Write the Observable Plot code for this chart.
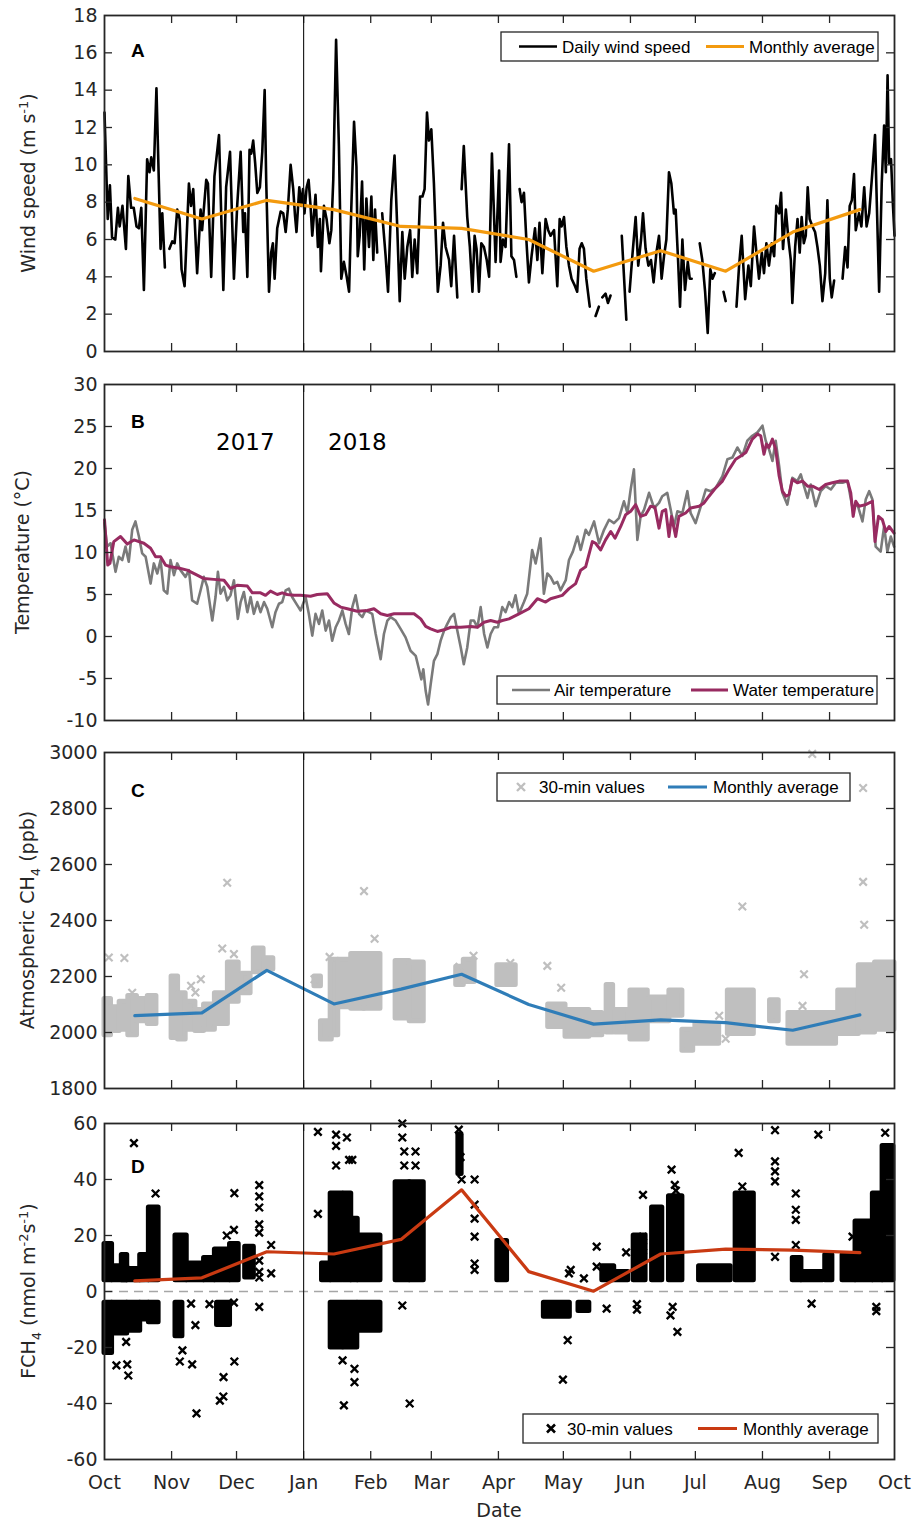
<!DOCTYPE html>
<html><head><meta charset="utf-8">
<script src="https://cdn.jsdelivr.net/npm/d3@7"></script>
<script src="https://cdn.jsdelivr.net/npm/@observablehq/plot@0.6"></script>
<style>
body{margin:0;background:#fff;}
#fig{position:relative;width:915px;height:1522px;background:#fff;overflow:hidden;}
#fig svg{position:absolute;left:0;}
</style></head><body><div id="fig"></div>
<script>
// ---------- DATA ----------
// days since 2017-10-01 ; null value = data gap
const monthTicks = ["2017-10-01","2017-11-01","2017-12-01","2018-01-01","2018-02-01","2018-03-01","2018-04-01","2018-05-01","2018-06-01","2018-07-01","2018-08-01","2018-09-01","2018-10-01"];
const monthMid = ["2017-10-15","2017-11-15","2017-12-15","2018-01-15","2018-02-15","2018-03-15","2018-04-15","2018-05-15","2018-06-15","2018-07-15","2018-08-15","2018-09-15"];
const yearBreak = ["2018-01-01"];

const windDaily = [[0,12.8],[1.5,7.1],[2.5,8.9],[3.5,6.1],[5,6.0],[6.2,7.7],[7,6.7],[8.3,7.8],[9.9,5.5],[11,9.4],[12.3,7.7],[13.5,7.7],[14.8,6.7],[15.9,6.6],[17,7.7],[18.2,3.3],[19.7,10.3],[20.8,9.6],[21.6,10.4],[22.8,9.7],[24,14.1],[25.9,5.5],[26.7,7.4],[27.9,4.5],[29,null],
[30,5.5],[31.3,5.9],[32.4,5.8],[33.6,7.6],[34.7,7.1],[35.6,4.4],[37,3.5],[39,9.0],[40,7.8],[41,8.7],[42.8,4.2],[44.4,7.6],[45.1,6.5],[47,9.2],[47.8,9.0],[49.3,4.0],[50.8,9.4],[52.9,11.6],[54.9,3.3],[56.2,8.8],[58,10.7],[59.8,3.9],[61.3,7.8],[62.9,10.7],[64.1,6.4],[64.9,7.4],[66,4.0],[67,10.8],[67.8,10.6],[68.7,11.3],[69.6,10.1],[70.6,8.5],[71.8,8.8],[72.9,10.7],[74,14.0],[74.7,9.2],[76,3.2],[77,5.3],[77.8,5.8],[78.6,3.9],[79.8,6.6],[81.4,7.5],[82.6,7.4],[83.7,6.4],[84.7,7.6],[86,10.0],[87.2,8.7],[88,7.3],[88.7,6.4],[90,8.8],[90.9,7.8],[91.7,8.7],[92.4,7.4],[93.4,8.8],[94.3,9.2],[95.2,7.8],[96,6.2],[97.5,8.4],[98.6,5.6],[99.5,7.1],[100,4.3],[101.4,7.8],[102.6,7.1],[103.9,5.8],[104.8,6.5],[105.7,9.2],[107,16.7],[108.3,11.0],[109.4,3.9],[110.6,4.8],[111.9,4.0],[113,3.2],[114,7.6],[115.3,12.3],[116.4,9.9],[117,5.1],[117.9,6.2],[119,9.1],[120,4.4],[121,8.2],[122.2,5.6],[123.3,8.3],[124.2,4.9],[125,7.6],[126,5.3],[127,null],
[128.3,7.4],[129.9,5.1],[131,3.2],[132.5,8.1],[134,10.5],[135.3,6.5],[136.4,2.7],[137.6,6.4],[138.7,3.9],[139.9,5.6],[141.2,6.5],[142.2,4.0],[143.3,6.0],[144.5,4.2],[145.8,8.3],[146.9,8.3],[147.9,8.7],[149,12.8],[149.9,11.3],[151,11.9],[152.2,9.0],[153,6.4],[154,3.2],[155.3,4.6],[156.4,6.9],[157.6,5.6],[159.2,4.9],[160.2,3.5],[161.5,6.2],[163,2.9],[164,null],
[165,8.7],[166,11.0],[167.6,7.2],[168.8,5.6],[170,3.2],[171,6.2],[171.9,5.5],[173,3.2],[174.1,5.8],[175.3,5.6],[176.6,4.9],[177.7,4.0],[179,10.6],[180.7,4.8],[182.3,9.7],[183,4.8],[184.1,6.0],[185.3,5.6],[186.9,11.1],[188,5.1],[189.2,4.9],[190.3,4.0],[191,null],
[191.8,8.7],[192.7,8.0],[193.8,8.5],[194.9,6.0],[196.1,3.7],[197.3,5.1],[198.9,6.6],[200,4.9],[201,6.9],[202.3,4.2],[203.8,7.1],[205,6.5],[206.1,6.2],[207.7,6.5],[209.2,3.5],[210.3,7.1],[211.2,6.7],[212.3,7.2],[213.4,5.6],[214.6,4.6],[215.8,3.9],[217.4,3.5],[218.4,3.2],[219.5,5.5],[220.5,5.8],[221.5,5.5],[222.6,3.9],[224.2,2.4],[225.5,null],
[226.9,1.9],[228.4,2.4],[229.2,null],[230,2.9],[231.5,3.1],[232.6,2.6],[233.8,3.0],[236,null],
[239,6.2],[241.1,1.7],[241.8,null],
[242.6,3.2],[244,5.3],[245.4,7.2],[246.6,4.6],[247.9,6.0],[248.8,7.4],[250,5.5],[251.3,4.6],[252.5,4.9],[253.7,3.7],[255,5.3],[256.2,6.2],[257.4,3.9],[258.5,5.1],[259.6,6.0],[260.8,9.6],[261.9,9.0],[263.1,7.4],[263.9,7.6],[265,4.9],[265.9,2.4],[267,6.0],[268.2,3.3],[269.5,4.8],[270.4,3.9],[271.3,3.9],[273,null],
[275,5.8],[276.2,4.9],[277.5,3.2],[278.7,1.0],[279.9,4.4],[280.9,3.9],[282,4.2],[284,null],
[286,3.2],[287,2.7],[289,null],
[292,2.4],[293.2,4.6],[294.4,6.2],[296,2.8],[297.5,4.6],[298.6,3.5],[300.1,6.7],[301.2,5.3],[302.4,3.9],[303.7,5.3],[304.7,4.2],[305.8,5.8],[307,4.6],[308.3,5.8],[309.4,5.1],[310.4,7.8],[311.7,7.4],[312.6,8.5],[313.5,5.5],[314.8,7.6],[316,6.0],[317.1,4.9],[317.8,2.6],[319.1,5.6],[320.2,7.1],[321.2,5.3],[322.1,7.2],[323.1,5.8],[324,6.2],[324.9,8.8],[325.8,7.1],[327.1,6.7],[328.3,6.4],[329.4,5.6],[330.5,4.6],[331.7,2.7],[333,4.2],[334,8.1],[335.1,3.9],[336,2.9],[337.1,3.8],[339,null],
[341,3.9],[342.2,5.6],[343.3,4.5],[344.3,7.8],[345.3,8.1],[346.3,9.5],[347.1,6.5],[348.6,7.4],[349.7,6.7],[351,8.8],[352.1,6.7],[353.3,7.4],[354.5,9.2],[356,11.6],[357.9,3.2],[359.1,9.0],[360.2,12.1],[361,9.6],[361.8,14.8],[362.5,10.1],[363.4,10.3],[364.3,7.8],[365,6.2]];
const windMonthly = [8.2, 7.1, 8.1, 7.6, 6.7, 6.6, 6.0, 4.3, 5.4, 4.3, 6.4, 7.6];

const waterTemp = [[0,13.9],[1.5,8.5],[2.5,8.7],[4.3,11.3],[7.4,11.9],[10.5,11.0],[13.6,11.5],[18.2,11.1],[21.3,10.5],[23.6,9.5],[25.9,9.5],[28.2,8.5],[30.5,8.3],[35.1,8.1],[38.2,7.9],[42.8,7.3],[45.9,6.9],[50.5,6.8],[55.2,6.7],[58.2,5.7],[61.3,6.1],[66,6.0],[68.3,5.2],[72.1,5.2],[74.4,4.9],[76.7,5.4],[79.8,5.0],[82.1,5.2],[84.4,5.0],[87.5,4.9],[90.6,4.9],[95.2,4.8],[98.3,5.0],[102.9,5.1],[106,4.0],[109.1,3.5],[112.2,3.3],[116.8,3.0],[121.4,3.1],[124.5,3.3],[127.6,2.7],[130.7,2.5],[133.8,2.7],[136.8,2.7],[143,2.7],[146.1,2.1],[148.4,1.2],[150.7,0.9],[153.8,0.6],[156.9,0.8],[160,1.1],[164.6,1.1],[169.2,1.2],[172.3,1.1],[175.4,1.7],[178.4,1.9],[181.5,1.7],[183.8,1.9],[186.9,2.1],[191.5,2.7],[196.1,3.3],[200,4.5],[203.8,4.1],[206.1,4.5],[211.5,4.9],[214.6,5.7],[217.7,6.3],[220,7.9],[222.3,8.3],[225.4,11.3],[226.9,11.1],[229.2,10.3],[231.5,11.5],[233.9,12.5],[235.9,11.7],[238.5,13.1],[240.8,14.5],[243.1,14.9],[245.4,15.7],[247.7,14.3],[250,14.5],[252.3,15.5],[254.3,15.4],[256.2,12.9],[257.7,14.9],[259.3,15.1],[260.8,11.9],[262,14.3],[263.9,11.9],[265.4,14.3],[268.5,14.7],[270.8,15.3],[274.7,15.5],[277,15.9],[279.3,16.7],[282.4,17.7],[285.5,18.5],[288.6,19.9],[291.6,21.1],[294,21.5],[296.3,21.9],[299.3,23.5],[301.7,24.1],[303.2,23.9],[304.7,21.7],[305.8,22.9],[307,22.5],[308.6,23.5],[310.1,22.3],[311.7,19.1],[313.2,17.3],[314.8,16.7],[316.3,16.9],[317.8,18.7],[320.1,18.3],[322.5,18.5],[324.8,17.9],[327.1,17.9],[330.2,17.5],[333.2,18.1],[336.3,18.3],[339.4,18.5],[343.3,18.5],[344.8,17.1],[345.9,14.3],[347.1,16.1],[348.6,15.5],[351.7,15.7],[354.8,16.1],[356,11.3],[357.6,14.3],[359.4,13.9],[361,12.5],[362.5,13.1],[364.8,12.3]];

const airTemp = [[0,13.5],[1.2,10.7],[2.8,11.1],[5.1,7.7],[6.6,9.5],[8.2,9.1],[9.7,10.7],[11.2,8.9],[12.8,12.7],[14.3,13.7],[15.9,11.9],[17.4,9.9],[19,9.5],[21.3,6.3],[22.8,8.7],[24.4,7.5],[25.9,9.1],[27.4,5.5],[29,5.1],[30.5,9.1],[32.1,7.3],[33.6,8.7],[35.1,7.9],[37.4,7.1],[39,7.9],[40.5,4.3],[42.8,3.9],[44.4,5.5],[45.9,7.1],[47.5,5.9],[49.8,1.9],[51.3,4.7],[52.4,7.7],[53.6,5.1],[55.2,5.9],[56.7,4.3],[58.2,4.9],[59.8,6.7],[61.6,2.1],[62.9,4.1],[64.4,5.3],[66,2.9],[67.5,4.7],[69,2.7],[70.6,4.1],[72.1,2.9],[73.7,4.1],[75.2,3.3],[77.5,1.1],[79,2.9],[80.6,3.9],[82.1,4.1],[83.7,5.5],[85.2,5.7],[86.7,4.7],[89.1,3.7],[90.6,3.1],[92.9,4.7],[94.4,2.7],[96,0.1],[97.5,2.7],[99.1,1.5],[100.6,3.1],[102.2,0.7],[103.7,1.9],[105.2,-0.5],[106.8,1.1],[108.3,1.9],[109.9,3.1],[111.4,1.5],[112.9,0.3],[114.5,3.5],[116,4.9],[117.6,2.7],[119.1,2.3],[120.6,3.1],[122.2,2.9],[123.7,2.7],[125.3,0.3],[127.6,-2.7],[129.1,0.3],[130.7,1.9],[132.2,2.3],[134.5,1.9],[136.8,0.9],[139.1,-0.1],[141.4,-1.7],[143.8,-2.3],[145.3,-3.9],[146.4,-5.1],[147.3,-3.9],[148.4,-6.5],[149.5,-8.1],[150.7,-5.7],[152.2,-2.9],[153.8,-2.1],[155.3,-0.5],[156.9,0.7],[158.4,1.5],[160,2.3],[161.5,2.7],[163,0.7],[164.6,-1.3],[166,-3.3],[167.6,-1.3],[169.2,1.9],[170.7,1.9],[172.3,1.1],[173.8,3.5],[175.4,0.3],[176.9,-1.3],[178.4,0.3],[180,1.1],[181.8,1.1],[183.8,3.5],[185.3,2.9],[186.9,4.1],[188.4,3.5],[189.9,4.9],[191.5,2.7],[193.8,4.1],[195.3,5.1],[197.6,10.3],[199.2,8.7],[201.5,11.7],[203,5.1],[204.6,7.5],[206.1,7.1],[207.7,6.3],[209.2,6.5],[210.7,5.5],[213.1,6.7],[214.6,9.1],[216.4,10.1],[218.5,11.9],[220,10.3],[222.3,12.7],[223.8,12.1],[226.2,13.7],[228.5,11.1],[230.8,12.7],[233.1,13.9],[235.4,13.5],[237.7,14.1],[240,16.1],[241.6,14.7],[243.1,17.5],[244.6,19.9],[246.2,11.5],[247.7,14.3],[249.3,15.1],[251.6,17.1],[253.9,15.3],[256.2,15.9],[257.7,16.7],[260,17.1],[261.6,15.1],[263.1,13.1],[264.7,14.9],[267,14.7],[269.3,17.3],[270.8,14.7],[273.1,13.5],[275.5,15.5],[277.8,17.5],[280.1,17.3],[282.4,17.7],[285.5,19.1],[287.8,21.1],[290.1,21.3],[292.4,22.5],[294.7,21.5],[297,23.3],[299.3,23.9],[301.7,24.3],[304,25.1],[305.5,23.3],[307,22.3],[308.6,20.9],[310.1,23.3],[311.7,20.3],[313.2,17.1],[315.5,15.7],[317.8,18.9],[320.1,18.5],[321.7,19.3],[323.2,17.9],[324.8,16.5],[326.3,18.1],[328.6,15.5],[330.9,17.3],[333.2,17.9],[335.6,17.5],[337.9,18.3],[341,18.3],[343.3,18.5],[345.6,15.3],[347.9,15.7],[350.2,13.7],[351.7,16.3],[353.3,17.3],[354.8,16.3],[356.3,10.7],[358.6,10.1],[360.2,13.1],[361.7,10.1],[363.3,11.9],[364.8,10.7]];

// CH4 30-min values: dense bursts [startDay, endDay, low, high] and isolated values [day, ppb]
const ch4Bursts = [[0,3,1990,2120],[3,7,2005,2090],[7,11,2010,2110],[11,15,1990,2130],[15,20,2040,2120],[20,24,2030,2130],[31,34,1980,2200],[34,37.5,1975,2140],[37.5,42,2010,2110],[42,46,2005,2080],[46,51,2010,2100],[51,57,2030,2140],[57,62,2110,2250],[63.5,67.5,2140,2210],[69,73.5,2215,2300],[74,78,2225,2265],[97,100,2165,2200],[100,105,1975,2040],[104.5,108,1990,2260],[108,114,2090,2260],[114,120,2085,2280],[120,127.5,2085,2280],[134.5,141,2050,2255],[141,147.5,2040,2250],[162.5,166,2170,2235],[166,171,2180,2260],[181.5,190,2170,2240],[205,213,2020,2100],[213,224,1985,2080],[225,230,1990,2070],[232,235,2000,2170],[236,242,2000,2080],[243,251,1975,2150],[252,261,2040,2125],[261,267,2060,2150],[267,272,1935,2010],[273,284,1960,2030],[288,300,1995,2150],[307.5,311.5,2040,2115],[316,338,1960,2070],[339,348.5,1995,2150],[348.5,356,2000,2240],[356,365,2010,2250]];
const ch4Single = [[2,2268],[9.2,2266],[12.8,2142],[40,2167],[42,2143],[44.5,2190],[54.4,2300],[56.7,2535],[59.8,2280],[97,2190],[104,2270],[119.9,2505],[124.8,2335],[164,2235],[170.5,2274],[187.5,2248],[204.6,2238],[211,2160],[284,2060],[287,1978],[294.7,2450],[322.5,2095],[323.2,2208],[327,2995],[350.5,2873],[350.5,2538],[351,2385]];
const ch4Monthly = [2060, 2070, 2222, 2102, 2155, 2208, 2100, 2030, 2045, 2035, 2008, 2063];

// FCH4 30-min values
const fluxBursts = [[0,3.5,4,17],[3.5,10.5,4,9],[8,10.5,4,13],[10.5,16.5,4,8],[16.5,20.5,4,13],[20.5,25,4,30],[32.8,38,4,20],[38,46,4,10],[46,51,4,12],[51,58,4,15],[58,62,4,17],[65,69,5,16],[100.5,104.5,4,10],[104.5,110,4,35],[110.5,114,4,35],[114,117,4,26],[117,127.5,4,20],[134.5,141,4,39],[141,147.5,4,39],[163.5,165,42,56],[181.5,186,4,18],[230,235.5,4,9],[236,242,4,7],[244.5,250,4,20],[253,257.7,4,30],[260.8,267,4,34],[274.7,289.3,4,9],[291.6,300,4,35],[318,322,4,12],[322,332,4,7],[333,336.3,4,13],[341,347,4,13],[347,355,4,25],[355,359.5,4,35],[359.5,364.5,4,52],
[0,3.5,-22,-4],[3.5,10.5,-15,-4],[10.5,16.5,-14,-4],[16.5,20.5,-10,-4],[20.5,25,-11,-4],[32.8,36,-16,-4],[52,58,-12,-4],[104.5,110,-20,-4],[110.5,116.8,-20,-4],[117,127.5,-14,-4],[203,215,-9,-4],[219,224,-7,-4]];
const fluxSingle = [[13.6,53],[23.6,35],[5.5,-26.4],[10,-18],[10.5,-26],[11,-30],[36,-21],[34.8,-25],[40.5,-26],[42,-12],[42.5,-43.5],[40,-4.3],[48.5,-4.5],[56.5,20],[59.8,22],[53.3,-39],[54.9,-37.5],[55,-30.6],[60,35.1],[59.8,-4],[60,-25],
[71.5,38],[71.5,34],[71.5,30],[71.5,24],[71.5,21],[71.5,11],[71.5,7],[71.5,5],[71.5,-5.5],[77,16.6],[77,6.5],[98.6,57],[98.6,27.7],
[107,56],[107,52],[107,45],[110,-24.6],[112,55],[113,47],[114.5,47],[115.5,-27.6],[115.5,-32.4],[110.6,-40.7],
[137.6,60],[137.6,55],[138.5,50],[138.5,45],[143.7,50],[143.7,45],[137.6,-5],[141,-40],
[163.7,57.8],[164.5,48],[165,40],[171,40],[171,31],[171,26],[171,19.6],[171,10],[171,7.7],
[214,-17.4],[211.8,-31.5],[214.6,6.5],[215.4,7.7],[221.5,4.7],[227.4,16],[227.4,8.9],[232,-6.1],[241,14],[246,-4.5],[246,-6.5],
[248.8,34.5],[248.8,19.6],[248.8,16],[248.8,12.4],[262,43.5],[263.5,38.1],[264,36],[262.5,-5.5],[261.5,-8.5],[264.7,-14.4],[293,49.5],[294.7,37.5],
[309.8,57.6],[309.8,46.5],[309.8,42.9],[309.8,39.3],[309.8,12.4],[319.4,35],[319.4,29.2],[319.4,25.6],[319.4,16.6],
[326.7,-4.3],[329.8,56],[345.6,19.6],[360.7,56.7],[356.6,-5.5],[356.6,-7]];
const fluxMonthly = [3.8, 4.9, 14.2, 13.4, 18.6, 36.3, 7.1, 0.1, 13.4, 15.1, 14.8, 13.9];

const windTicks = [0,2,4,6,8,10,12,14,16,18];
const tempTicks = [-10,-5,0,5,10,15,20,25,30];
const ch4Ticks = [1800,2000,2200,2400,2600,2800,3000];
const fluxTicks = [-60,-40,-20,0,20,40,60];

// ---------- HELPERS ----------
const T0 = Date.UTC(2017, 9, 1);
const toDate = d => new Date(T0 + d * 864e5);
const months = monthTicks.map(s => new Date(s));
const mids = monthMid.map(s => new Date(s));
const jan1 = yearBreak.map(s => new Date(s));
const series = arr => arr.map(([d, v]) => ({date: toDate(d), v}));
const monthly = vals => vals.map((v, i) => ({date: mids[i], v}));

const W = 915, ML = 104, MR = 21, INNER_W = W - ML - MR, INNER_H = 336;
const AX = "#262626";
const TICKFONT = "DejaVu Sans, Verdana, sans-serif";
const LEGFONT = "Liberation Sans, Arial, sans-serif";

function frameMarks(yTicks) {
  return [
    Plot.ruleX(months.slice(1, -1), {x: d => d, insetTop: INNER_H - 8, stroke: AX, strokeWidth: 1.3}),
    Plot.ruleX(months.slice(1, -1), {x: d => d, insetBottom: INNER_H - 8, stroke: AX, strokeWidth: 1.3}),
    Plot.ruleY(yTicks.slice(1, -1), {y: d => d, insetRight: INNER_W - 8, stroke: AX, strokeWidth: 1.3}),
    Plot.ruleY(yTicks.slice(1, -1), {y: d => d, insetLeft: INNER_W - 8, stroke: AX, strokeWidth: 1.3}),
    Plot.ruleX(jan1, {x: d => d, stroke: "#111", strokeWidth: 1.1}),
    Plot.axisY(yTicks, {tickSize: 0, tickPadding: 7, tickFormat: d => String(d), label: null, fontSize: 19, fill: AX}),
    Plot.frame({stroke: AX, strokeWidth: 1.8})
  ];
}

function panel({top, height, marginTop, yDomain, yTicks, marks, xAxis}) {
  const svg = Plot.plot({
    width: W, height, marginLeft: ML, marginRight: MR, marginTop,
    marginBottom: height - marginTop - INNER_H,
    style: {fontFamily: TICKFONT, fontSize: "19px", color: AX, background: "transparent", overflow: "visible"},
    x: {type: "utc", domain: [months[0], months[12]]},
    y: {domain: yDomain},
    marks: [
      ...marks,
      ...frameMarks(yTicks),
      xAxis ? Plot.axisX(months, {tickSize: 0, tickPadding: 16, tickFormat: d => d3.utcFormat("%b")(d), label: null, fontSize: 19, fill: AX}) : Plot.axisX({ticks: [], label: null, tickSize: 0})
    ]
  });
  svg.style.top = top + "px";
  document.getElementById("fig").appendChild(svg);
  return {svg: d3.select(svg), top};
}

function yLabel(p, x, cy, parts) {
  const t = p.svg.append("text")
    .attr("transform", `translate(${x},${cy - p.top}) rotate(-90)`)
    .attr("text-anchor", "middle")
    .attr("font-family", TICKFONT).attr("font-size", 19).attr("fill", AX);
  let shift = 0;
  for (const [s, kind] of parts) {
    const target = kind === "sup" ? -7 : kind === "sub" ? 6 : 0;
    t.append("tspan").attr("dy", target - shift).attr("font-size", kind ? 13 : 19).text(s);
    shift = target;
  }
}

function label(p, s, x, y, font, size, weight) {
  p.svg.append("text").attr("x", x).attr("y", y - p.top).attr("text-anchor", "start")
    .attr("font-family", font).attr("font-weight", weight || "normal")
    .attr("font-size", size).attr("fill", "#000").text(s);
}

function legend(p, box, items) {
  const g = p.svg.append("g").attr("text-anchor", "start");
  g.append("rect").attr("x", box[0]).attr("y", box[1] - p.top).attr("width", box[2] - box[0]).attr("height", box[3] - box[1])
    .attr("fill", "#fff").attr("stroke", AX).attr("stroke-width", 1.3);
  const cy = (box[1] + box[3]) / 2 - p.top;
  for (const it of items) {
    if (it.type === "line") {
      g.append("line").attr("x1", it.x1).attr("x2", it.x2).attr("y1", cy).attr("y2", cy)
        .attr("stroke", it.color).attr("stroke-width", it.w);
    } else {
      const r = 4;
      g.append("path").attr("d", `M${it.x1 - r},${cy - r}L${it.x1 + r},${cy + r}M${it.x1 - r},${cy + r}L${it.x1 + r},${cy - r}`)
        .attr("stroke", it.color).attr("stroke-width", it.w);
    }
    g.append("text").attr("x", it.tx).attr("y", cy + 6).attr("text-anchor", "start")
      .attr("font-family", LEGFONT).attr("font-size", 17)
      .attr("fill", "#000").text(it.label);
  }
}

// ---------- PANEL A ----------
const A = panel({top: 0, height: 370, marginTop: 15, yDomain: [0, 18], yTicks: windTicks, marks: [
  Plot.line(series(windDaily), {x: "date", y: "v", stroke: "#000", strokeWidth: 2.6}),
  Plot.line(monthly(windMonthly), {x: "date", y: "v", stroke: "#F39A0E", strokeWidth: 3.2})
]});
yLabel(A, 35, 183, [["Wind speed (m s"], ["-1", "sup"], [")"]]);
label(A, "A", 131, 57, LEGFONT, 19, "bold");
legend(A, [501, 32, 878, 61], [
  {type: "line", x1: 519, x2: 557, color: "#000", w: 2.6, tx: 562, label: "Daily wind speed"},
  {type: "line", x1: 706, x2: 744, color: "#F39A0E", w: 3.2, tx: 749, label: "Monthly average"}
]);

// ---------- PANEL B ----------
const B = panel({top: 370, height: 370, marginTop: 14, yDomain: [-10, 30], yTicks: tempTicks, marks: [
  Plot.line(series(airTemp), {x: "date", y: "v", stroke: "#7a7a7a", strokeWidth: 2.6}),
  Plot.line(series(waterTemp), {x: "date", y: "v", stroke: "#982B61", strokeWidth: 3})
]});
yLabel(B, 29, 552, [["Temperature (°C)"]]);
label(B, "B", 131, 428, LEGFONT, 19, "bold");
label(B, "2017", 216, 450, TICKFONT, 23);
label(B, "2018", 328, 450, TICKFONT, 23);
legend(B, [497, 676, 877, 704], [
  {type: "line", x1: 512, x2: 550, color: "#7a7a7a", w: 2.6, tx: 554, label: "Air temperature"},
  {type: "line", x1: 691, x2: 728, color: "#982B61", w: 3, tx: 733, label: "Water temperature"}
]);

// ---------- PANEL C ----------
const C = panel({top: 740, height: 370, marginTop: 12, yDomain: [1800, 3000], yTicks: ch4Ticks, marks: [
  Plot.rect(ch4Bursts, {x1: d => toDate(d[0]), x2: d => toDate(d[1]), y1: d => d[2], y2: d => d[3], fill: "#bfbfbf", stroke: "#bfbfbf", strokeWidth: 5, strokeLinejoin: "round"}),
  Plot.dot(ch4Single, {x: d => toDate(d[0]), y: d => d[1], symbol: "times", r: 3.5, stroke: "#bfbfbf", strokeWidth: 2.2}),
  Plot.line(monthly(ch4Monthly), {x: "date", y: "v", stroke: "#2F7DB8", strokeWidth: 3.2})
]});
yLabel(C, 34, 920, [["Atmospheric CH"], ["4", "sub"], [" (ppb)"]]);
label(C, "C", 131, 797, LEGFONT, 19, "bold");
legend(C, [497, 773, 850, 801], [
  {type: "x", x1: 521, color: "#bfbfbf", w: 2.4, tx: 539, label: "30-min values"},
  {type: "line", x1: 668, x2: 707, color: "#2F7DB8", w: 3.2, tx: 713, label: "Monthly average"}
]);

// ---------- PANEL D ----------
const D = panel({top: 1110, height: 412, marginTop: 13, yDomain: [-60, 60], yTicks: fluxTicks, xAxis: true, marks: [
  Plot.ruleY([0], {y: d => d, stroke: "#a6a6a6", strokeWidth: 1.6, strokeDasharray: "9,6"}),
  Plot.rect(fluxBursts, {x1: d => toDate(d[0]), x2: d => toDate(d[1]), y1: d => d[2], y2: d => d[3], fill: "#000", stroke: "#000", strokeWidth: 5, strokeLinejoin: "round"}),
  Plot.dot(fluxSingle, {x: d => toDate(d[0]), y: d => d[1], symbol: "times", r: 3.5, stroke: "#000", strokeWidth: 2.4}),
  Plot.line(monthly(fluxMonthly), {x: "date", y: "v", stroke: "#C93A12", strokeWidth: 3.2})
]});
yLabel(D, 35, 1291, [["FCH"], ["4", "sub"], [" (nmol m"], ["-2", "sup"], ["s"], ["-1", "sup"], [")"]]);
label(D, "D", 131, 1173, LEGFONT, 19, "bold");
legend(D, [523, 1414, 878, 1443], [
  {type: "x", x1: 551, color: "#000", w: 2.6, tx: 567, label: "30-min values"},
  {type: "line", x1: 698, x2: 737, color: "#C93A12", w: 3.2, tx: 743, label: "Monthly average"}
]);
D.svg.append("text").attr("x", 499).attr("y", 1517 - D.top).attr("text-anchor", "middle")
  .attr("font-family", TICKFONT).attr("font-size", 19).attr("fill", AX).text("Date");
</script></body></html>
